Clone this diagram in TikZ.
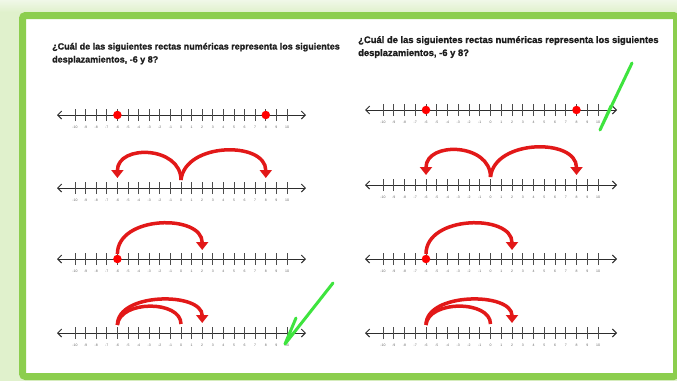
\documentclass[tikz,border=0pt]{standalone}
\usepackage{fontspec}
\setmainfont{Liberation Sans}[BoldFeatures={FakeBold=1.2}]
\usetikzlibrary{arrows.meta}
\definecolor{frameg}{RGB}{140,206,78}
\definecolor{glowg}{RGB}{224,241,204}
\definecolor{glowtop}{RGB}{240,248,232}
\definecolor{checkg}{RGB}{62,228,62}
\definecolor{arcred}{RGB}{226,24,24}
\definecolor{linegray}{RGB}{45,45,45}
\definecolor{textgray}{RGB}{30,30,30}
\tikzset{
  axisline/.style={draw=linegray, line width=1pt, {Straight Barb[length=4pt,width=8pt]}-{Straight Barb[length=4pt,width=8pt]}},
  tickmark/.style={draw=linegray!85, line width=0.8pt},
  ticklbl/.style={font=\fontsize{3.5}{3.8}\selectfont, text=black!60, inner sep=0pt},
  jump/.style={draw=arcred, line width=3.5pt, -{Triangle[width=12pt,length=8pt]}},
  jumpnohead/.style={draw=arcred, line width=3.5pt},
  reddot/.style={circle, fill=red, minimum size=8.5pt, inner sep=0pt},
  checkmk/.style={draw=checkg, line width=3pt, line cap=round, line join=round},
  qtext/.style={font=\bfseries\fontsize{9}{10}\selectfont, text=textgray, anchor=base west, inner sep=0pt},
  qtextR/.style={qtext, font=\bfseries\fontsize{9.4}{10}\selectfont}
}
\newcommand\NumLine[4]{%
  \coordinate (#1-lt) at ({#2-18}, #4);
  \coordinate (#1-rt) at ({#2+20*#3+19}, #4);
  \draw[axisline] (#1-lt) -- (#1-rt);
  \foreach \i in {0,...,20} {
    \pgfmathtruncatemacro\lab{\i-10}
    \coordinate (#1-t\i) at ({#2+\i*#3}, #4);
    \draw[tickmark] ([yshift=-6pt]#1-t\i) -- ([yshift=6pt]#1-t\i);
    \node[ticklbl] (#1-l\i) at ([yshift=-12pt]#1-t\i) {\lab};
  }
}
\begin{document}
\begin{tikzpicture}[x=1pt, y=-1pt]
\useasboundingbox (0,0) rectangle (677,381);
% background glow and frame
\fill[glowg] (0,0) rectangle (677,381);
\shade[top color=glowtop, bottom color=glowg] (0,0) rectangle (677,12);
\draw[frameg, line width=7pt, rounded corners=3pt, fill=white] (22.5,15.5) rectangle (676.5,376.5);

% questions
\node[qtext] (qL1) at (52,49.5) {¿Cuál de las siguientes rectas numéricas representa los siguientes};
\node[qtext] (qL2) at (52,62.5) {desplazamientos, -6 y 8?};
\node[qtextR] (qR1) at (358,43) {¿Cuál de las siguientes rectas numéricas representa los siguientes};
\node[qtextR] (qR2) at (358,56) {desplazamientos, -6 y 8?};

% number lines left
\NumLine{A1}{75}{10.6}{115}
\NumLine{A2}{75}{10.6}{188}
\NumLine{A3}{75}{10.6}{259}
\NumLine{A4}{75}{10.6}{333}
% number lines right
\NumLine{B1}{383}{10.75}{110}
\NumLine{B2}{383}{10.75}{185}
\NumLine{B3}{383}{10.75}{259}
\NumLine{B4}{383}{10.75}{333}

% option 1: dots
\foreach \p in {A,B} {
  \node[reddot] (\p1-d1) at (\p1-t4) {};
  \node[reddot] (\p1-d2) at (\p1-t18) {};
}
% option 2: two jumps from 0
\foreach \p in {A,B} {
  \draw[jump] ([yshift=8pt]\p2-t10) .. controls ([yshift=42pt]\p2-t10) and ([yshift=44pt]\p2-t4) .. ([yshift=10pt]\p2-t4);
  \draw[jump] ([yshift=8pt]\p2-t10) .. controls ([yshift=46pt,xshift=4pt]\p2-t10) and ([yshift=47pt]\p2-t18) .. ([yshift=10pt]\p2-t18);
}
% option 3: dot at -6, jump to 2
\foreach \p in {A,B} {
  \node[reddot] (\p3-d) at (\p3-t4) {};
  \draw[jump] ([yshift=5pt]\p3-t4) .. controls ([yshift=44pt]\p3-t4) and ([yshift=45pt]\p3-t12) .. ([yshift=9pt]\p3-t12);
}
% option 4: two jumps from -6
\foreach \p in {A,B} {
  \draw[jump] ([yshift=8pt]\p4-t4) .. controls ([yshift=41pt]\p4-t4) and ([yshift=41pt]\p4-t12) .. ([yshift=10pt]\p4-t12);
  \draw[jumpnohead] ([yshift=8pt]\p4-t4) .. controls ([yshift=33pt,xshift=2pt]\p4-t4) and ([yshift=33pt]\p4-t10) .. ([yshift=9pt]\p4-t10);
}

% check marks
\coordinate (ckA-b) at (285,344);
\coordinate (ckA-s) at (296,318);
\coordinate (ckA-l) at (333,283);
\draw[checkmk] (ckA-s) -- (ckA-b) -- (ckA-l);
\coordinate (ckB-b) at (600,130);
\coordinate (ckB-s) at (611,106);
\coordinate (ckB-l) at (632,63);
\draw[checkmk] (ckB-s) -- (ckB-b) -- (ckB-l);
\end{tikzpicture}
\end{document}
